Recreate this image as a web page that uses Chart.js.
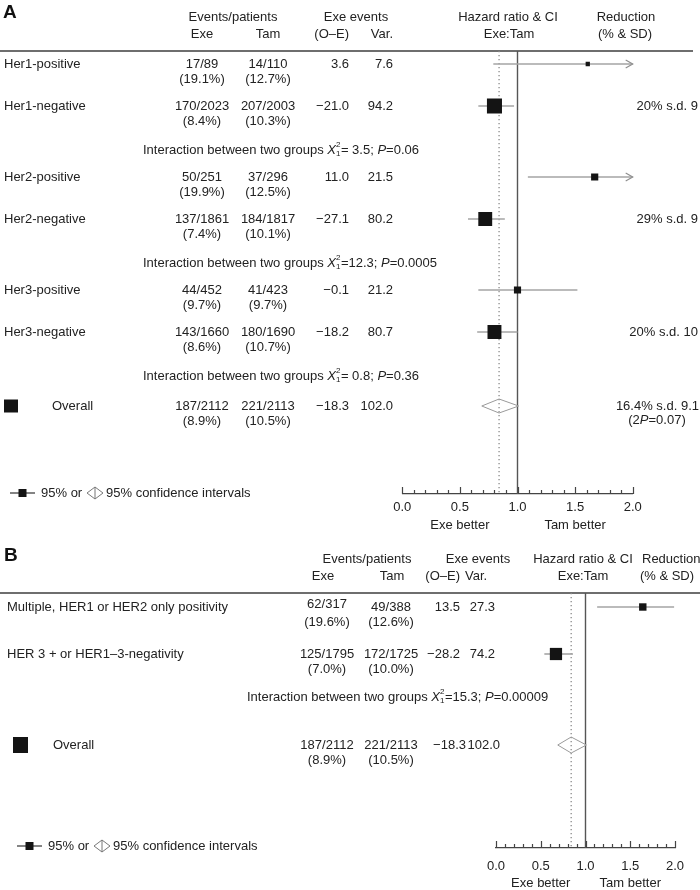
<!DOCTYPE html>
<html><head><meta charset="utf-8">
<script src="https://cdn.jsdelivr.net/npm/chart.js@4.4.1/dist/chart.umd.min.js"></script>
<style>
html,body{margin:0;padding:0;background:#fff;}
#wrap{position:relative;width:700px;height:890px;background:#fff;overflow:hidden;}
canvas{position:absolute;left:0;top:0;}
</style></head><body>
<div id="wrap"><canvas id="cA" width="700" height="890"></canvas><canvas id="cB" width="700" height="890"></canvas></div>
<script>
// ---------------- Panel A data ----------------
const catsA   = ['Her1-positive','Her1-negative','Her2-positive','Her2-negative','Her3-positive','Her3-negative'];
const exeEvA  = ['17/89','170/2023','50/251','137/1861','44/452','143/1660'];
const exePctA = ['(19.1%)','(8.4%)','(19.9%)','(7.4%)','(9.7%)','(8.6%)'];
const tamEvA  = ['14/110','207/2003','37/296','184/1817','41/423','180/1690'];
const tamPctA = ['(12.7%)','(10.3%)','(12.5%)','(10.1%)','(9.7%)','(10.7%)'];
const oeA     = ['3.6','\u221221.0','11.0','\u221227.1','\u22120.1','\u221218.2'];
const varA    = [7.6, 94.2, 21.5, 80.2, 21.2, 80.7];
const hrA     = [1.61, 0.80, 1.67, 0.72, 1.00, 0.80];
const loA     = [0.79, 0.66, 1.09, 0.57, 0.66, 0.65];
const hiA     = [3.28, 0.97, 2.56, 0.89, 1.52, 1.00];
const redA    = ['', '20% s.d. 9', '', '29% s.d. 9', '', '20% s.d. 10'];
const interChiA = ['= 3.5', '=12.3', '= 0.8'];
const interPA   = ['0.06', '0.0005', '0.36'];

// ---------------- Panel B data ----------------
const catsB   = ['Multiple, HER1 or HER2 only positivity', 'HER 3 + or HER1\u20133-negativity'];
const exeEvB  = ['62/317','125/1795'];
const exePctB = ['(19.6%)','(7.0%)'];
const tamEvB  = ['49/388','172/1725'];
const tamPctB = ['(12.6%)','(10.0%)'];
const oeB     = ['13.5','\u221228.2'];
const varB    = [27.3, 74.2];
const hrB     = [1.64, 0.67];
const loB     = [1.13, 0.54];
const hiB     = [1.99, 0.86];
const redB    = ['', ''];
const interChiB = ['=15.3'];
const interPB   = ['0.00009'];

// ---------------- Overall (both panels) ----------------
const overallLabel = 'Overall';
const overallExe = ['187/2112', '(8.9%)'];
const overallTam = ['221/2113', '(10.5%)'];
const overallOE  = '\u221218.3';
const overallVar = '102.0';
const overallHR  = 0.84;
const overallLo  = 0.69;
const overallHi  = 1.01;
const overallRedA = ['16.4% s.d. 9.1', '0.07'];

// ---------------- Axis / header text ----------------
const xTicks = [0, 0.5, 1, 1.5, 2];
const betterLabels = ['Exe better', 'Tam better'];
const headers = ['Events/patients','Exe','Tam','Exe events','(O\u2013E)','Var.','Hazard ratio & CI','Exe:Tam','Reduction','(% & SD)'];
const legendTexts = ['95% or', '95% confidence intervals'];

// ---------------- Rendering ----------------
const FONT = "'Liberation Sans', Arial, Helvetica, sans-serif";
const TXT = '#222';
const fnt = (sz, st) => (st ? st + ' ' : '') + sz + 'px ' + FONT;

function txt(ctx, s, x, y, align, font, color) {
  ctx.font = font || fnt(13);
  ctx.fillStyle = color || TXT;
  ctx.textAlign = align || 'left';
  ctx.textBaseline = 'middle';
  ctx.fillText(s, x, y);
}
function richWidth(ctx, parts) {
  let w = 0;
  parts.forEach(p => {
    if (p.sup !== undefined) { ctx.font = fnt(8); w += Math.max(ctx.measureText(p.sup).width, ctx.measureText(p.sub).width) + 0.5; }
    else { ctx.font = fnt(13, p.i ? 'italic' : ''); w += ctx.measureText(p.t).width; }
  });
  return w;
}
function rich(ctx, parts, x, y, align) {
  let cx = x;
  const w = richWidth(ctx, parts);
  if (align === 'center') cx = x - w / 2;
  if (align === 'right') cx = x - w;
  parts.forEach(p => {
    if (p.sup !== undefined) {
      ctx.font = fnt(8);
      const ww = Math.max(ctx.measureText(p.sup).width, ctx.measureText(p.sub).width);
      txt(ctx, p.sup, cx, y - 5, 'left', fnt(8));
      txt(ctx, p.sub, cx, y + 4, 'left', fnt(8));
      cx += ww + 0.5;
    } else {
      const ff = fnt(13, p.i ? 'italic' : '');
      txt(ctx, p.t, cx, y, 'left', ff);
      ctx.font = ff;
      cx += ctx.measureText(p.t).width;
    }
  });
}
function seg(ctx, x1, y1, x2, y2) { ctx.beginPath(); ctx.moveTo(x1, y1); ctx.lineTo(x2, y2); ctx.stroke(); }

function layoutYs(kinds, L) {
  const ys = []; let y = L.rowStart;
  kinds.forEach((k, j) => {
    if (j > 0) {
      const pk = kinds[j - 1];
      if (pk === 'r' && k === 'r') y += L.rr;
      else if (pk === 'r' && k === 'i') y += L.ri;
      else if (pk === 'i' && k === 'o') y += L.io;
      else y += L.ir;
    }
    ys.push(y);
  });
  return ys;
}

function buildPanel(canvasId, D, L) {
  const H = L.bottom - L.top;
  const kinds = [], refs = [];
  for (let g = 0; g < D.chi.length; g++) {
    kinds.push('r', 'r', 'i'); refs.push(2 * g, 2 * g + 1, g);
  }
  kinds.push('o'); refs.push(0);
  const ys = layoutYs(kinds, L);
  const rowY = [], interY = []; let overallY = 0;
  kinds.forEach((k, j) => { if (k === 'r') rowY[refs[j]] = ys[j]; else if (k === 'i') interY[refs[j]] = ys[j]; else overallY = ys[j]; });

  const ds = [];
  ds.push({ type: 'line', data: [{ x: 1, y: 0 }, { x: 1, y: H }], borderColor: '#555', borderWidth: 1.4, pointRadius: 0, order: 6, clip: false });
  ds.push({ type: 'line', data: [{ x: overallHR, y: 0 }, { x: overallHR, y: H }], borderColor: '#8a8a8a', borderWidth: 1.3, borderDash: [1.3, 2.7], pointRadius: 0, order: 5, clip: false });
  D.hr.forEach((v, i) => {
    ds.push({ type: 'line', data: [{ x: D.lo[i], y: rowY[i] }, { x: Math.min(D.hi[i], 2), y: rowY[i] }], borderColor: '#a5a5a5', borderWidth: 1.6, pointRadius: 0, order: 3, clip: false });
  });
  const dh = L.dh;
  ds.push({ type: 'line', data: [{ x: overallLo, y: overallY }, { x: overallHR, y: overallY - dh }, { x: overallHi, y: overallY }, { x: overallHR, y: overallY + dh }, { x: overallLo, y: overallY }],
    borderColor: '#9a9a9a', borderWidth: 1, pointRadius: 0, fill: false, tension: 0, order: 2, clip: false });
  ds.push({ type: 'scatter', data: D.hr.map((v, i) => ({ x: v, y: rowY[i] })), pointStyle: 'rect',
    pointRadius: D.vars.map(v => L.sqK * Math.sqrt(v) / Math.SQRT2), backgroundColor: '#141414', borderColor: '#141414', borderWidth: 0, order: 0 });

  const plugin = {
    id: 'table' + canvasId,
    beforeDatasetsDraw(chart) {
      const { ctx, chartArea: ca } = chart;
      ctx.save();
      ctx.strokeStyle = '#6e6e6e'; ctx.lineWidth = 2;
      seg(ctx, 0, ca.top, L.ruleX2, ca.top);
      ctx.restore();
    },
    afterDraw(chart) {
      const { ctx, chartArea: ca, scales: { x, y } } = chart;
      const Y = v => y.getPixelForValue(v);
      ctx.save();
      txt(ctx, L.letter, L.letterX, L.letterY, 'left', fnt(19, 'bold'), '#111');
      headers.forEach((h, i) => {
        const hp = L.head[i];
        txt(ctx, h, hp[0], hp[1] === 0 ? L.headY1 : L.headY2, hp[2]);
      });
      // axis tick marks (upward)
      ctx.strokeStyle = '#444'; ctx.lineWidth = 1.2;
      for (let i = 0; i <= 20; i++) {
        const px = Math.round(x.getPixelForValue(i / 10)) + 0.5;
        const len = i % 5 === 0 ? 7 : 4;
        seg(ctx, px, ca.bottom, px, ca.bottom - len);
      }
      txt(ctx, betterLabels[0], x.getPixelForValue(0.5), L.betterY, 'center');
      txt(ctx, betterLabels[1], x.getPixelForValue(1.5), L.betterY, 'center');
      // arrows for off-scale upper limits
      ctx.strokeStyle = '#8f8f8f'; ctx.lineWidth = 1.2;
      D.hi.forEach((h, i) => {
        if (h > 2) {
          const xe = x.getPixelForValue(2), yy = Y(rowY[i]);
          ctx.beginPath(); ctx.moveTo(xe - 7, yy - 4); ctx.lineTo(xe, yy); ctx.lineTo(xe - 7, yy + 4); ctx.stroke();
        }
      });
      // rows
      D.cats.forEach((c, i) => {
        const yy = Y(rowY[i]);
        txt(ctx, c, L.labelX, yy, 'left');
        txt(ctx, D.exeEv[i], L.colExe, yy + (i === 0 ? L.firstExeShift : 0), 'center');
        txt(ctx, D.exePct[i], L.colExe, yy + 15, 'center');
        txt(ctx, D.tamEv[i], L.colTam, yy, 'center');
        txt(ctx, D.tamPct[i], L.colTam, yy + 15, 'center');
        txt(ctx, D.oe[i], L.colOE, yy, 'right');
        txt(ctx, D.vars[i].toFixed(1), L.colVar, yy, 'right');
        if (D.red[i]) txt(ctx, D.red[i], L.redRight, yy, 'right');
      });
      // interaction lines
      D.chi.forEach((c, g) => {
        rich(ctx, [{ t: 'Interaction between two groups ' }, { t: 'X', i: true }, { sup: '2', sub: '1' }, { t: c + '; ' }, { t: 'P', i: true }, { t: '=' + D.p[g] }], L.interX, Y(interY[g]), 'left');
      });
      // overall row
      const oy = Y(overallY);
      ctx.fillStyle = '#141414';
      ctx.fillRect(L.bigSq[0] - L.bigSq[2] / 2, oy - L.bigSq[3] / 2 + L.bigSq[1], L.bigSq[2], L.bigSq[3]);
      txt(ctx, overallLabel, L.overallX, oy, 'left');
      txt(ctx, overallExe[0], L.colExe, oy, 'center');
      txt(ctx, overallExe[1], L.colExe, oy + 15, 'center');
      txt(ctx, overallTam[0], L.colTam, oy, 'center');
      txt(ctx, overallTam[1], L.colTam, oy + 15, 'center');
      txt(ctx, overallOE, L.oeOverall, oy, 'right');
      txt(ctx, overallVar, L.varOverall, oy, 'right');
      if (D.overallRed) {
        txt(ctx, D.overallRed[0], L.redRight + 1, oy, 'right');
        rich(ctx, [{ t: '(2' }, { t: 'P', i: true }, { t: '=' + D.overallRed[1] + ')' }], L.pCenter, oy + 14, 'center');
      }
      // legend
      const lx = L.legend[0], ly = L.legend[1];
      ctx.strokeStyle = '#333'; ctx.lineWidth = 1.2;
      seg(ctx, lx, ly, lx + 25, ly);
      ctx.fillStyle = '#141414'; ctx.fillRect(lx + 8.5, ly - 4, 8, 8);
      txt(ctx, legendTexts[0], lx + 31, ly, 'left');
      ctx.strokeStyle = '#777'; ctx.lineWidth = 1;
      const dx = lx + 85;
      ctx.beginPath(); ctx.moveTo(dx - 8, ly); ctx.lineTo(dx, ly - 6); ctx.lineTo(dx + 8, ly); ctx.lineTo(dx, ly + 6); ctx.closePath(); ctx.stroke();
      seg(ctx, dx, ly - 6, dx, ly + 6);
      txt(ctx, legendTexts[1], lx + 96, ly, 'left');
      ctx.restore();
    }
  };

  return new Chart(document.getElementById(canvasId), {
    type: 'scatter',
    data: { datasets: ds },
    options: {
      responsive: false, animation: false, devicePixelRatio: 1, events: [],
      layout: { padding: { left: L.left, right: 700 - L.right, top: L.top, bottom: 0 } },
      plugins: { legend: { display: false }, tooltip: { enabled: false } },
      scales: {
        x: {
          type: 'linear', position: 'bottom', min: 0, max: 2,
          afterBuildTicks: s => { s.ticks = xTicks.map(v => ({ value: v })); },
          afterFit: s => { s.height = 890 - L.bottom; },
          grid: { display: false, drawTicks: false },
          border: { display: true, color: '#444', width: 1.2 },
          ticks: { autoSkip: false, maxRotation: 0, padding: L.tickPad, color: TXT, font: { family: FONT, size: 13 }, callback: v => Number(v).toFixed(1) }
        },
        y: { type: 'linear', display: false, min: 0, max: H, reverse: true }
      }
    },
    plugins: [plugin]
  });
}

const LA = {
  left: 402.3, right: 632.7, top: 51, bottom: 494, tickPad: 6,
  rowStart: 13, rr: 42, ri: 44, ir: 27, io: 30, dh: 7,
  labelX: 4, overallX: 52, colExe: 202, colTam: 268, colOE: 349, colVar: 393, oeOverall: 349, varOverall: 393,
  firstExeShift: 0,
  redRight: 698, pCenter: 657, interX: 143, sqK: 1.55, bigSq: [11, 0, 14, 13], legend: [10, 493], betterY: 525,
  ruleX2: 693, letter: 'A', letterX: 3, letterY: 13, headY1: 17, headY2: 34,
  head: [[233, 0, 'center'], [202, 1, 'center'], [268, 1, 'center'], [356, 0, 'center'], [349, 1, 'right'], [393, 1, 'right'],
         [508, 0, 'center'], [509, 1, 'center'], [626, 0, 'center'], [625, 1, 'center']]
};
const LB = {
  left: 496, right: 675, top: 593, bottom: 848, tickPad: 11,
  rowStart: 14, rr: 47, ri: 43, ir: 27, io: 48, dh: 8,
  labelX: 7, overallX: 53, colExe: 327, colTam: 391, colOE: 460, colVar: 495, oeOverall: 466, varOverall: 500,
  firstExeShift: -3,
  redRight: 698, pCenter: 657, interX: 247, sqK: 1.42, bigSq: [20.5, 0, 15, 16], legend: [17, 846], betterY: 883,
  ruleX2: 700, letter: 'B', letterX: 4, letterY: 556, headY1: 559, headY2: 576,
  head: [[367, 0, 'center'], [323, 1, 'center'], [392, 1, 'center'], [478, 0, 'center'], [460, 1, 'right'], [465, 1, 'left'],
         [583, 0, 'center'], [583, 1, 'center'], [642, 0, 'left'], [667, 1, 'center']]
};

buildPanel('cA', { cats: catsA, exeEv: exeEvA, exePct: exePctA, tamEv: tamEvA, tamPct: tamPctA, oe: oeA, vars: varA,
  hr: hrA, lo: loA, hi: hiA, red: redA, chi: interChiA, p: interPA, overallRed: overallRedA }, LA);
buildPanel('cB', { cats: catsB, exeEv: exeEvB, exePct: exePctB, tamEv: tamEvB, tamPct: tamPctB, oe: oeB, vars: varB,
  hr: hrB, lo: loB, hi: hiB, red: redB, chi: interChiB, p: interPB, overallRed: null }, LB);
</script>
</body></html>
